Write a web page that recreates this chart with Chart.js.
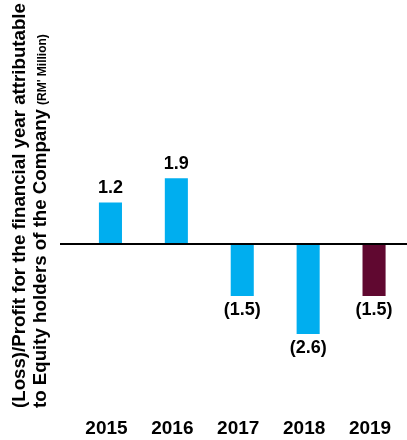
<!DOCTYPE html>
<html>
<head>
<meta charset="utf-8">
<script src="https://cdn.jsdelivr.net/npm/chart.js@4.4.1/dist/chart.umd.min.js"></script>
<style>
  html, body { margin: 0; padding: 0; background: #fff; overflow: hidden; }
  #wrap { position: absolute; left: 0; top: 0; width: 407px; height: 440px; }
</style>
</head>
<body>
<div id="wrap"><canvas id="profitChart"></canvas></div>
<script>
// data
const years = ['2015', '2016', '2017', '2018', '2019'];
const profit = [1.2, 1.9, -1.5, -2.6, -1.5];
const titleLine1 = '(Loss)/Profit for the financial year attributable';
const titleLine2 = 'to Equity holders of the Company';
const titleUnit = "(RM' Million)";

const FONT = "'Liberation Sans', Arial, sans-serif";
const BLUE = '#00AEEF';
const MAROON = '#600830';

function fmt(v) {
    return v < 0 ? '(' + Math.abs(v).toFixed(1) + ')' : v.toFixed(1);
}

// zero line, value labels and rotated axis title
const extras = {
    id: 'extras',
    afterDatasetsDraw(chart) {
        const ctx = chart.ctx;
        const y = chart.scales.y;
        const zero = y.getPixelForValue(0);

        ctx.save();
        ctx.strokeStyle = '#000';
        ctx.lineWidth = 2;
        ctx.beginPath();
        ctx.moveTo(60, zero);
        ctx.lineTo(chart.width, zero);
        ctx.stroke();

        ctx.fillStyle = '#000';
        ctx.font = 'bold 18px ' + FONT;
        ctx.textAlign = 'center';
        ctx.textBaseline = 'middle';
        chart.getDatasetMeta(0).data.forEach((bar, i) => {
            const v = profit[i];
            const ty = v >= 0 ? bar.y - 14 : bar.y + 14;
            ctx.fillText(fmt(v), bar.x, ty);
        });
        ctx.restore();

        // y title
        ctx.save();
        ctx.fillStyle = '#000';
        ctx.textAlign = 'left';
        ctx.textBaseline = 'alphabetic';
        ctx.translate(25, 408);
        ctx.rotate(-Math.PI / 2);
        ctx.font = 'bold 18.7px ' + FONT;
        ctx.fillText(titleLine1, 0, 0);
        ctx.fillText(titleLine2, 0, 20.5);
        const w = ctx.measureText(titleLine2).width;
        ctx.font = 'bold 12px ' + FONT;
        ctx.fillText(titleUnit, w + 4, 20.5);
        ctx.restore();
    }
};

new Chart(document.getElementById('profitChart'), {
    type: 'bar',
    data: {
        labels: years,
        datasets: [{
            data: profit,
            backgroundColor: (c) => c.dataIndex === years.length - 1 ? MAROON : BLUE,
            borderWidth: 0,
            categoryPercentage: 1,
            barPercentage: 0.35
        }]
    },
    options: {
        responsive: true,
        maintainAspectRatio: false,
        animation: false,
        layout: {
            padding: { left: 77.5, top: 147, right: 0, bottom: 0 }
        },
        plugins: {
            legend: { display: false },
            tooltip: { enabled: false }
        },
        scales: {
            y: {
                display: false,
                min: -5,
                max: 2.8
            },
            x: {
                grid: { display: false, drawTicks: false },
                border: { display: false },
                ticks: {
                    color: '#000',
                    padding: 0,
                    labelOffset: -4,
                    font: { family: FONT, size: 19, weight: 'bold' }
                }
            }
        }
    },
    plugins: [extras]
});
</script>
</body>
</html>
